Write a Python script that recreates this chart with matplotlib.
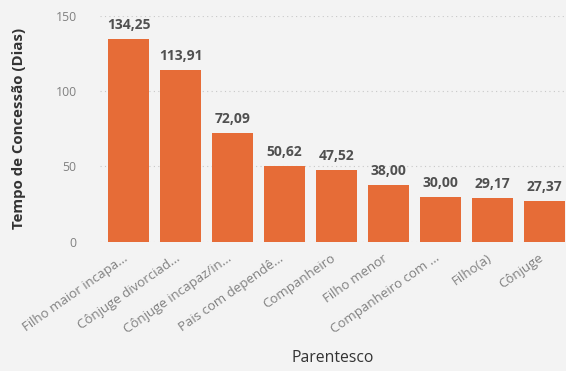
import matplotlib
matplotlib.use("Agg")
import matplotlib.pyplot as plt
from matplotlib.transforms import ScaledTranslation

categories = ["Filho maior incapa...", "Cônjuge divorciad...", "Cônjuge incapaz/in...",
              "Pais com dependê...", "Companheiro", "Filho menor",
              "Companheiro com ...", "Filho(a)", "Cônjuge"]
values = [134.25, 113.91, 72.09, 50.62, 47.52, 38.00, 30.00, 29.17, 27.37]
yticks = [0, 50, 100, 150]

plt.rcParams['font.family'] = ['Open Sans', 'DejaVu Sans']
bg = '#f3f3f3'
fig = plt.figure(figsize=(5.66, 3.71), dpi=100, facecolor=bg)
ax = fig.add_axes([0.177, 0.348, 0.823, 0.61], facecolor=bg)

x = list(range(len(values)))
ax.bar(x, values, width=0.79, color='#e66c37', zorder=3)
for xi, v in zip(x, values):
    ax.annotate(f"{v:.2f}".replace('.', ','), (xi, v), xytext=(0, 5), textcoords='offset points',
                ha='center', va='bottom', fontsize=10, fontweight='bold', color='#505050')

ax.set_xlim(-0.55, 8.42)
ax.set_ylim(0, 150)
ax.set_yticks(yticks)
ax.set_yticklabels([str(t) for t in yticks])
ax.set_xticks(x)
ax.set_xticklabels(categories, rotation=35, ha='right', rotation_mode='anchor')
ax.tick_params(axis='both', length=0, colors='#808080')
ax.tick_params(axis='y', pad=17, labelsize=8.8)
ax.tick_params(axis='x', pad=7, labelsize=9.5)
offset = ScaledTranslation(-6 / 100, 0, fig.dpi_scale_trans)
for lbl in ax.get_xticklabels():
    lbl.set_transform(lbl.get_transform() + offset)
for s in ax.spines.values():
    s.set_visible(False)
ax.grid(axis='y', linestyle=(0, (1, 3)), color='#c8c8c8', linewidth=0.8, zorder=0)
ax.set_ylabel('Tempo de Concessão (Dias)', fontsize=10.8, fontweight='bold', color='#333333', labelpad=21)
ax.set_xlabel('Parentesco', fontsize=11.3, color='#333333', labelpad=10)
fig.savefig('out.png', dpi=100, facecolor=bg)
